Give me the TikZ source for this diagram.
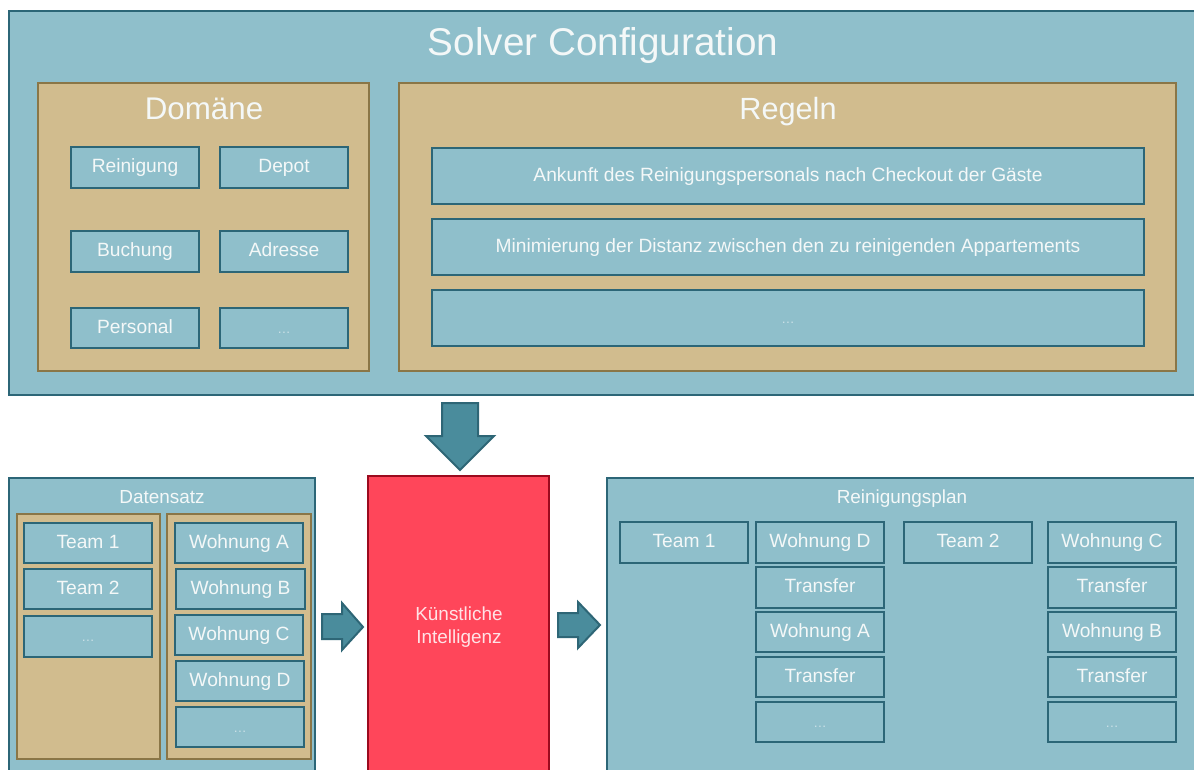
\documentclass[tikz,border=0pt]{standalone}
\usepackage{fontspec}
\setmainfont{Liberation Sans}
\definecolor{bfill}{HTML}{8FBFCB}
\definecolor{bdraw}{HTML}{2C6677}
\definecolor{tfill}{HTML}{D1BC8E}
\definecolor{tdraw}{HTML}{8A7647}
\definecolor{kfill}{HTML}{FF465A}
\definecolor{kdraw}{HTML}{9B0A1E}
\definecolor{afill}{HTML}{4A8C9C}
\definecolor{adraw}{HTML}{2E6676}
\definecolor{txt}{HTML}{F4F8F8}
\newcommand\bx[7]{%
  \node[#1, minimum width={(#5-#3)*0.75pt}, minimum height={(#6-#4)*0.75pt}] (#2) at ({(#3+#5)/2},{(#4+#6)/2}) {#7};}
\tikzset{
  base/.style={rectangle, inner sep=0pt, outer sep=0pt, text height=0.82em, text depth=0pt, align=center},
  bluebox/.style={base, fill=bfill, draw=bdraw, line width=1.5pt, text=txt, font=\fontsize{14.4}{16}\selectfont},
  bigbox/.style={base, fill=bfill, draw=bdraw, line width=1.8pt},
  tanbox/.style={base, fill=tfill, draw=tdraw, line width=1.2pt},
  kibox/.style={base, fill=kfill, draw=kdraw, line width=1.8pt},
  dots/.style={text=white!55!bfill, font=\fontsize{10}{12}\selectfont},
  ttl/.style={anchor=base, text=txt, inner sep=0pt},
  blockarrow/.style={fill=afill, draw=adraw, line width=1.5pt, line join=miter},
}
\begin{document}
\begin{tikzpicture}[x=0.75pt,y=-0.75pt]
\useasboundingbox (0,0) rectangle (1194,769);
\clip (0,0) rectangle (1194,769);
\fill[white] (0,0) rectangle (1194,769);
% Solver configuration
\bx{bigbox}{solver}{9}{11}{1205}{395}{}
\node[ttl, font=\fontsize{29}{34}\selectfont] (solvertitle) at (603,55) {Solver Configuration};
\bx{tanbox}{domaene}{38}{83}{369}{371}{}
\node[ttl, font=\fontsize{23.5}{28}\selectfont] (domtitle) at (204,119) {Domäne};
\bx{bluebox}{reinigung}{71}{147}{199}{188}{Reinigung}
\bx{bluebox}{depot}{220}{147}{348}{188}{Depot}
\bx{bluebox}{buchung}{71}{231}{199}{272}{Buchung}
\bx{bluebox}{adresse}{220}{231}{348}{272}{Adresse}
\bx{bluebox}{personal}{71}{308}{199}{348}{Personal}
\bx{bluebox, dots}{domdots}{220}{308}{348}{348}{\dots}
\bx{tanbox}{regeln}{399}{83}{1176}{371}{}
\node[ttl, font=\fontsize{23}{28}\selectfont] (regtitle) at (788,119) {Regeln};
\bx{bluebox}{regel1}{432}{148}{1144}{204}{Ankunft des Reinigungspersonals nach Checkout der Gäste}
\bx{bluebox}{regel2}{432}{219}{1144}{275}{Minimierung der Distanz zwischen den zu reinigenden Appartements}
\bx{bluebox, dots}{regel3}{432}{290}{1144}{346}{\dots}
% KI
\bx{kibox}{ki}{368}{476}{549}{790}{}
\node[ttl, text=white!85!kfill, font=\fontsize{14.2}{18}\selectfont] (ki1) at (459,620) {Künstliche};
\node[ttl, text=white!85!kfill, font=\fontsize{14.2}{18}\selectfont] (ki2) at (459,643) {Intelligenz};
% Datensatz
\bx{bigbox}{daten}{9}{478}{315}{790}{}
\node[ttl, font=\fontsize{14.2}{17}\selectfont] (datentitle) at (162,503) {Datensatz};
\bx{tanbox}{teams}{17}{514}{160}{759}{}
\bx{tanbox}{wohnungen}{167}{514}{311}{759}{}
\bx{bluebox}{dteam1}{24}{523}{152}{563}{Team 1}
\bx{bluebox}{dteam2}{24}{569}{152}{609}{Team 2}
\bx{bluebox, dots}{dteamdots}{24}{616}{152}{657}{\dots}
\bx{bluebox}{dwa}{175}{523}{303}{563}{Wohnung A}
\bx{bluebox}{dwb}{176}{569}{305}{609}{Wohnung B}
\bx{bluebox}{dwc}{175}{615}{303}{655}{Wohnung C}
\bx{bluebox}{dwd}{176}{661}{304}{701}{Wohnung D}
\bx{bluebox, dots}{dwdots}{176}{707}{304}{747}{\dots}
% Reinigungsplan
\bx{bigbox}{plan}{607}{478}{1205}{790}{}
\node[ttl, font=\fontsize{14.2}{17}\selectfont] (plantitle) at (902,503) {Reinigungsplan};
\bx{bluebox}{pteam1}{620}{522}{748}{563}{Team 1}
\bx{bluebox}{pwd}{756}{522}{884}{563}{Wohnung D}
\bx{bluebox}{pt1}{756}{567}{884}{608}{Transfer}
\bx{bluebox}{pwa}{756}{612}{884}{652}{Wohnung A}
\bx{bluebox}{pt2}{756}{657}{884}{697}{Transfer}
\bx{bluebox, dots}{pdots1}{756}{702}{884}{742}{\dots}
\bx{bluebox}{pteam2}{904}{522}{1032}{563}{Team 2}
\bx{bluebox}{pwc}{1048}{522}{1176}{563}{Wohnung C}
\bx{bluebox}{pt3}{1048}{567}{1176}{608}{Transfer}
\bx{bluebox}{pwb}{1048}{612}{1176}{652}{Wohnung B}
\bx{bluebox}{pt4}{1048}{657}{1176}{697}{Transfer}
\bx{bluebox, dots}{pdots2}{1048}{702}{1176}{742}{\dots}
% block arrows
\draw[blockarrow] (442,403) -- (478,403) -- (478,436) -- (494,436) -- (460,470) -- (426,436) -- (442,436) -- cycle;
\draw[blockarrow] (322,614) -- (342,614) -- (342,603) -- (363,627) -- (342,650) -- (342,639) -- (322,639) -- cycle;
\draw[blockarrow] (558,613) -- (578,613) -- (578,602) -- (600,625) -- (578,648) -- (578,637) -- (558,637) -- cycle;
\end{tikzpicture}
\end{document}
